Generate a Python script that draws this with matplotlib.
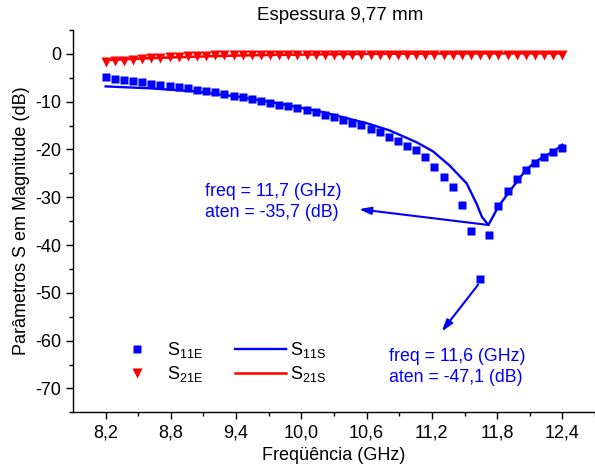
import matplotlib
matplotlib.use("Agg")
import matplotlib.pyplot as plt
from matplotlib.lines import Line2D

plt.rcParams['font.family'] = ['Liberation Sans', 'DejaVu Sans']
plt.rcParams['mathtext.fontset'] = 'custom'
plt.rcParams['mathtext.rm'] = 'Liberation Sans'
plt.rcParams['mathtext.it'] = 'Liberation Sans:italic'

# measured points (51 frequencies, X band)
freq_e = [8.200, 8.284, 8.368, 8.452, 8.536, 8.620, 8.704, 8.788, 8.872, 8.956,
          9.040, 9.124, 9.208, 9.292, 9.376, 9.460, 9.544, 9.628, 9.712, 9.796,
          9.880, 9.964, 10.048, 10.132, 10.216, 10.300, 10.384, 10.468, 10.552, 10.636,
          10.720, 10.804, 10.888, 10.972, 11.056, 11.140, 11.224, 11.308, 11.392, 11.476,
          11.560, 11.644, 11.728, 11.812, 11.896, 11.980, 12.064, 12.148, 12.232, 12.316,
          12.400]
s11e = [-4.93, -5.28, -5.49, -5.76, -5.97, -6.25, -6.46, -6.67, -6.88, -7.22,
        -7.50, -7.78, -8.06, -8.40, -8.75, -9.00, -9.40, -9.90, -10.2, -10.6,
        -11.0, -11.4, -11.8, -12.2, -12.8, -13.3, -13.8, -14.4, -14.9, -15.7,
        -16.4, -17.4, -18.2, -19.2, -20.1, -21.5, -23.6, -25.8, -27.9, -31.6,
        -37.1, -47.1, -38.0, -31.9, -28.7, -26.25, -24.4, -22.8, -21.6, -20.6,
        -19.6]
s21e = [-1.70, -1.55, -1.40, -1.25, -1.10, -0.95, -0.82, -0.70, -0.60, -0.50,
        -0.42, -0.36, -0.31, -0.27, -0.24, -0.22, -0.21, -0.20, -0.20, -0.20,
        -0.20, -0.20, -0.20, -0.20, -0.20, -0.20, -0.20, -0.20, -0.20, -0.20,
        -0.20, -0.20, -0.20, -0.20, -0.20, -0.20, -0.20, -0.20, -0.20, -0.20,
        -0.20, -0.20, -0.20, -0.20, -0.20, -0.20, -0.20, -0.20, -0.20, -0.20,
        -0.20]

# simulated curves
freq_s11 = [8.2, 8.6, 9.0, 9.4, 9.8, 10.2, 10.6, 10.81, 11.06, 11.21, 11.36, 11.52,
            11.61, 11.66, 11.72, 11.81, 11.90, 11.98, 12.06, 12.15, 12.23, 12.32, 12.4]
s11s = [-6.8, -7.2, -7.8, -8.9, -10.4, -12.2, -14.5, -16.0, -18.5, -20.4, -23.3, -27.1,
        -31.3, -34.1, -35.8, -32.0, -29.2, -26.8, -24.4, -22.6, -21.5, -20.4, -19.0]
freq_s21 = [8.2, 8.6, 9.0, 9.4, 9.8, 10.2, 10.6, 11.0, 11.4, 11.8, 12.2, 12.4]
s21s = [-1.3, -0.9, -0.6, -0.35, -0.2, -0.1, 0.0, 0.05, 0.08, 0.1, 0.1, 0.1]

xticks = [8.2, 8.8, 9.4, 10.0, 10.6, 11.2, 11.8, 12.4]
xticklabels = ['8,2', '8,8', '9,4', '10,0', '10,6', '11,2', '11,8', '12,4']
yticks = [0, -10, -20, -30, -40, -50, -60, -70]
yticklabels = ['0', '-10', '-20', '-30', '-40', '-50', '-60', '-70']

fig = plt.figure(figsize=(5.95, 4.72), dpi=100)
ax = fig.add_axes([73/595, 59.7/472, 522/595, 382.3/472])

ax.plot(freq_s21, s21s, color='red', lw=1.8, zorder=2)
ax.plot(freq_e, s21e, 'v', color='red', ms=7, mec='none', zorder=3)
ax.plot(freq_s11, s11s, color='blue', lw=1.7, zorder=2)
ax.plot(freq_e, s11e, 's', color='blue', ms=6.3, mec='none', zorder=3)

ax.set_xlim(7.9, 12.7)
ax.set_ylim(-75, 5)
ax.set_xticks(xticks)
ax.set_xticklabels(xticklabels)
ax.set_xticks([8.5, 9.1, 9.7, 10.3, 10.9, 11.5, 12.1, 12.7], minor=True)
ax.set_yticks(yticks)
ax.set_yticklabels(yticklabels)
ax.set_yticks([5, -5, -15, -25, -35, -45, -55, -65, -75], minor=True)
ax.tick_params(which='major', length=5, width=1, labelsize=13, direction='out')
ax.tick_params(which='minor', length=3, width=1, direction='out')
for s in ['top', 'right']:
    ax.spines[s].set_visible(False)
for s in ['left', 'bottom']:
    ax.spines[s].set_linewidth(1.0)

ax.set_xlabel('Freqüência (GHz)', fontsize=13, labelpad=4)
ax.set_ylabel('Parâmetros S em Magnitude (dB)', fontsize=13, labelpad=4)
fig.text(340/595, 1 - 15/472, 'Espessura 9,77 mm', fontsize=13.5, ha='center', va='center')

# annotations
ax.annotate('', xy=(10.53, -32.5), xytext=(11.72, -35.8),
            arrowprops=dict(arrowstyle='-|>,head_length=0.7,head_width=0.22',
                            color='blue', lw=1.5, shrinkA=0, shrinkB=0))
ax.text(9.11, -31.0, 'freq = 11,7 (GHz)\naten = -35,7 (dB)', color='blue',
        fontsize=12.8, ha='left', va='center', linespacing=1.3)
ax.annotate('', xy=(11.29, -58.1), xytext=(11.625, -48.3),
            arrowprops=dict(arrowstyle='-|>,head_length=0.7,head_width=0.22',
                            color='blue', lw=1.5, shrinkA=0, shrinkB=0))
ax.text(10.81, -65.5, 'freq = 11,6 (GHz)\naten = -47,1 (dB)', color='blue',
        fontsize=12.8, ha='left', va='center', linespacing=1.3)

handles = [Line2D([], [], ls='none', marker='s', color='blue', ms=6.3, mec='none'),
           Line2D([], [], ls='none', marker='v', color='red', ms=7, mec='none'),
           Line2D([], [], color='blue', lw=1.7),
           Line2D([], [], color='red', lw=1.8)]
labels = [r'S$_{\mathrm{11E}}$', r'S$_{\mathrm{21E}}$', r'S$_{\mathrm{11S}}$', r'S$_{\mathrm{21S}}$']
ax.legend(handles, labels, ncol=2, loc='center', bbox_to_anchor=(0.28, 0.131),
          frameon=False, fontsize=13, handlelength=2.8, handletextpad=0.25,
          columnspacing=1.8, labelspacing=0.2, numpoints=1)

fig.savefig('out.png', dpi=100)
